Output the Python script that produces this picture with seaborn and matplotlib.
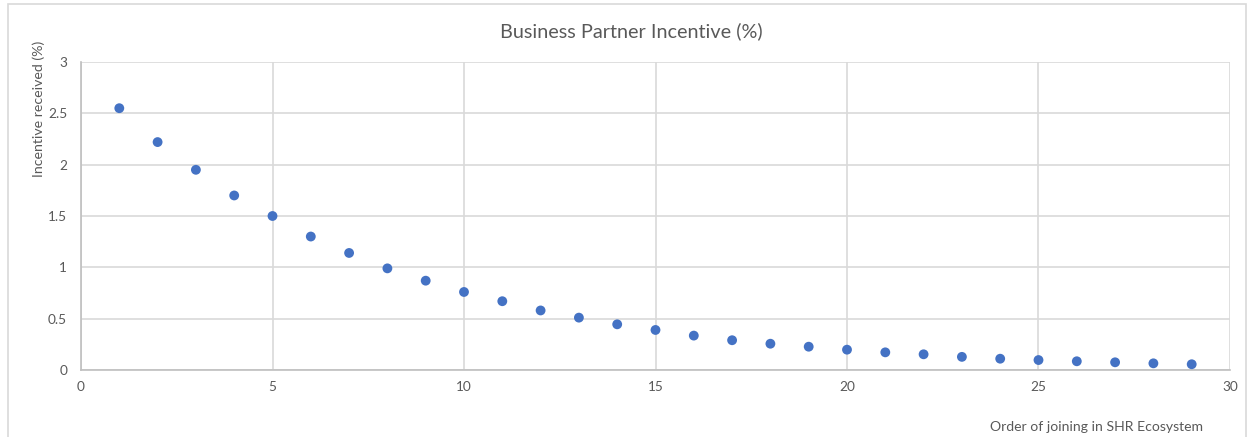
import matplotlib
matplotlib.use("Agg")
import matplotlib.pyplot as plt
import seaborn as sns
import pandas as pd
from matplotlib.patches import Rectangle

order = list(range(1, 30))
incentive = [2.55, 2.22, 1.95, 1.70, 1.50, 1.30, 1.14, 0.99, 0.87, 0.76,
             0.67, 0.58, 0.51, 0.445, 0.39, 0.335, 0.29, 0.256, 0.227, 0.198,
             0.172, 0.153, 0.128, 0.11, 0.097, 0.085, 0.075, 0.065, 0.056]
x_ticks = [0, 5, 10, 15, 20, 25, 30]
y_ticks = [0, 0.5, 1, 1.5, 2, 2.5, 3]
y_tick_labels = ["0", "0.5", "1", "1.5", "2", "2.5", "3"]

df = pd.DataFrame({"order": order, "incentive": incentive})

sns.set_style("whitegrid")
plt.rcParams["font.family"] = ["Lato", "DejaVu Sans"]

W, H = 1249, 437
fig = plt.figure(figsize=(W / 100, H / 100), dpi=100)
ax = fig.add_axes([81 / W, 1 - 370 / H, (1230 - 81) / W, (370 - 62) / H])

sns.scatterplot(data=df, x="order", y="incentive", ax=ax, color="#4472C4",
                s=50, edgecolor="none", zorder=3, clip_on=False)

ax.set_xlim(0, 30)
ax.set_ylim(0, 3)
ax.set_xticks(x_ticks)
ax.set_xticklabels([str(t) for t in x_ticks])
ax.set_yticks(y_ticks)
ax.set_yticklabels(y_tick_labels)
ax.grid(True, color="#D9D9D9", linewidth=1.2)
ax.tick_params(axis="both", colors="#595959", labelsize=9.8, length=0)
ax.tick_params(axis="x", pad=8)
ax.tick_params(axis="y", pad=10)
for side in ["top", "right"]:
    ax.spines[side].set_visible(False)
for side in ["left", "bottom"]:
    ax.spines[side].set_color("#BFBFBF")
    ax.spines[side].set_linewidth(1.2)
ax.set_xlabel("")
ax.set_ylabel("")

fig.text(631 / W, 1 - 31 / H, "Business Partner Incentive (%)", ha="center",
         va="center", fontsize=14.3, color="#595959")
fig.text(39 / W, 1 - 109 / H, "Incentive received (%)", ha="center",
         va="center", rotation=90, fontsize=10.2, color="#595959")
fig.text(1096 / W, 1 - 427 / H, "Order of joining in SHR Ecosystem", ha="center",
         va="center", fontsize=10.1, color="#595959")

fig.patches.append(Rectangle((8 / W, -0.1), (1246 - 8) / W, 1 - 4 / H + 0.1,
                             transform=fig.transFigure, fill=False,
                             edgecolor="#D9D9D9", linewidth=1.2))

fig.savefig("out.png", dpi=100, facecolor="white")
